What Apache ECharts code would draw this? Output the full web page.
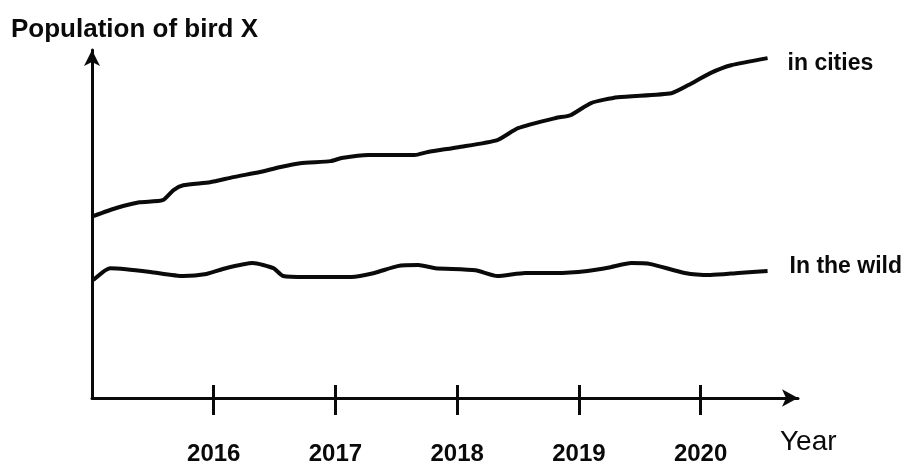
<!DOCTYPE html>
<html>
<head>
<meta charset="utf-8">
<script src="https://cdn.jsdelivr.net/npm/echarts@6/dist/echarts.min.js"></script>
<style>
  html, body { margin: 0; padding: 0; background: #fff; }
  #chart { width: 907px; height: 468px; }
</style>
</head>
<body>
<div id="chart"></div>
<script>
// Year ticks shown under the horizontal axis
const yearTicks = [2016, 2017, 2018, 2019, 2020];

// Population in cities: [year, population index]
const citiesSeries = [
  [2015.01, 53.5], [2015.20, 55.9], [2015.39, 57.6], [2015.58, 58.2],
  [2015.67, 61.2], [2015.75, 62.6], [2015.97, 63.5], [2016.16, 65.0],
  [2016.38, 66.5], [2016.54, 67.9], [2016.71, 69.1], [2016.96, 69.7],
  [2017.05, 70.6], [2017.27, 71.5], [2017.65, 71.5], [2017.76, 72.4],
  [2018.01, 73.8], [2018.33, 75.9], [2018.50, 79.4], [2018.81, 82.4],
  [2018.93, 83.2], [2019.10, 86.8], [2019.32, 88.5], [2019.76, 89.7],
  [2019.90, 92.1], [2020.08, 95.6], [2020.25, 97.9], [2020.55, 100.0]
];

// Population in the wild: [year, population index]
const wildSeries = [
  [2015.01, 34.7], [2015.15, 38.2], [2015.28, 37.9], [2015.48, 37.1],
  [2015.75, 35.9], [2015.94, 36.5], [2016.10, 38.2], [2016.32, 39.7],
  [2016.49, 38.2], [2016.57, 35.9], [2016.76, 35.6], [2016.96, 35.6],
  [2017.13, 35.6], [2017.32, 36.8], [2017.51, 38.8], [2017.68, 39.1],
  [2017.82, 38.2], [2018.15, 37.6], [2018.33, 35.9], [2018.56, 36.8],
  [2018.81, 36.8], [2019.07, 37.4], [2019.26, 38.5], [2019.43, 39.7],
  [2019.59, 39.4], [2019.87, 36.8], [2020.08, 36.2], [2020.31, 36.8],
  [2020.55, 37.4]
];

const seriesNames = ['in cities', 'In the wild'];

const FONT = '"Liberation Sans", Arial, sans-serif';
const INK = '#0a0a0a';

const chart = echarts.init(document.getElementById('chart'), null, { renderer: 'canvas' });

const xMin = 2015, xMax = 2020.80;

chart.setOption({
  animation: false,
  backgroundColor: '#fff',
  title: {
    text: 'Population of bird X',
    left: 6,
    top: 12,
    textStyle: { fontFamily: FONT, fontSize: 26, fontWeight: 'bold', color: INK }
  },
  grid: { left: 92, right: 109, top: 50, bottom: 70, containLabel: false },
  xAxis: [
    {
      type: 'value',
      min: xMin,
      max: xMax,
      splitLine: { show: false },
      axisLine: {
        show: true,
        lineStyle: { color: INK, width: 3 },
        symbol: ['none', 'arrow'],
        symbolSize: [13, 16]
      },
      axisTick: {
        show: true,
        customValues: yearTicks,
        length: 17,
        lineStyle: { color: INK, width: 3 }
      },
      axisLabel: {
        show: true,
        customValues: yearTicks,
        margin: 44,
        fontFamily: FONT,
        fontSize: 24,
        fontWeight: 'bold',
        color: INK,
        formatter: v => String(v)
      },
      name: 'Year',
      nameLocation: 'end',
      nameGap: -18,
      nameTextStyle: {
        fontFamily: FONT,
        fontSize: 28,
        color: INK,
        align: 'left',
        verticalAlign: 'top',
        padding: [30, 0, 0, 0]
      }
    },
    {
      // second axis in the same place carries the upper half of each tick
      type: 'value',
      min: xMin,
      max: xMax,
      position: 'bottom',
      splitLine: { show: false },
      axisLine: { show: false },
      axisTick: {
        show: true,
        inside: true,
        customValues: yearTicks,
        length: 13,
        lineStyle: { color: INK, width: 3 }
      },
      axisLabel: { show: false }
    }
  ],
  yAxis: {
    type: 'value',
    min: 0,
    max: 102.4,
    splitLine: { show: false },
    axisTick: { show: false },
    axisLabel: { show: false },
    axisLine: {
      show: true,
      lineStyle: { color: INK, width: 3 },
      symbol: ['none', 'arrow'],
      symbolSize: [12, 16]
    }
  },
  series: [
    {
      name: seriesNames[0],
      type: 'line',
      xAxisIndex: 0,
      data: citiesSeries,
      smooth: 0.2,
      showSymbol: false,
      lineStyle: { color: INK, width: 4 },
      endLabel: {
        show: true,
        formatter: '{a}',
        distance: 20,
        offset: [0, 5],
        fontFamily: FONT,
        fontSize: 23,
        fontWeight: 'bold',
        color: INK
      }
    },
    {
      name: seriesNames[1],
      type: 'line',
      xAxisIndex: 0,
      data: wildSeries,
      smooth: 0.2,
      showSymbol: false,
      lineStyle: { color: INK, width: 4 },
      endLabel: {
        show: true,
        formatter: '{a}',
        distance: 22,
        offset: [0, -4],
        fontFamily: FONT,
        fontSize: 23,
        fontWeight: 'bold',
        color: INK
      }
    }
  ]
});
</script>
</body>
</html>
